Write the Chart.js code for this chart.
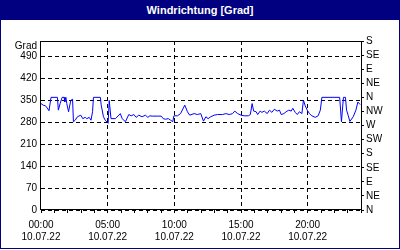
<!DOCTYPE html>
<html>
<head>
<meta charset="utf-8">
<script src="https://cdn.jsdelivr.net/npm/chart.js@4"></script>
<style>
    body { margin: 0; background: #fff; }
    #frame { position: absolute; left: 0; top: 0; width: 400px; height: 249px; box-sizing: border-box; border: 1px solid #000080; border-top: none; }
    #title { position: absolute; left: 0; top: 0; width: 400px; height: 20px; background: #000080; color: #fff;
             font: bold 11px "Liberation Sans", sans-serif; text-align: center; line-height: 20px; }
    #chart { position: absolute; left: 0; top: 0; }
</style>
</head>
<body>
<div id="frame"></div>
<div id="title">Windrichtung [Grad]</div>
<canvas id="chart" width="400" height="250"></canvas>
<script>
// Windrichtung 10.07.22, Werte in Grad
const times = [
    "00:00", "00:10", "00:20", "00:28", "00:36", "00:45", "01:14", "01:18", "01:26", "01:35",
    "01:44", "01:47", "01:52", "01:56", "02:04", "02:14", "02:22", "02:26", "02:34", "02:44",
    "02:59", "03:08", "03:19", "03:26", "03:37", "03:45", "03:52", "03:56", "04:27", "04:31",
    "04:41", "04:49", "05:02", "05:07", "05:15", "05:35", "05:57", "06:05", "06:20", "06:35",
    "06:46", "06:58", "07:08", "07:20", "07:35", "07:50", "08:01", "08:10", "08:20", "08:50",
    "09:01", "09:10", "09:20", "09:33", "09:43", "09:53", "09:58", "10:14", "10:28", "10:47",
    "10:59", "11:09", "11:29", "11:44", "11:59", "12:11", "12:22", "12:32", "12:44", "12:59",
    "13:14", "13:37", "13:52", "14:07", "14:22", "14:32", "14:45", "15:00", "15:14", "15:33",
    "15:42", "15:50", "15:57", "16:08", "16:15", "16:26", "16:34", "16:45", "16:58", "17:08",
    "17:19", "17:30", "17:43", "17:53", "18:01", "18:13", "18:23", "18:35", "18:46", "18:53",
    "19:04", "19:13", "19:23", "19:34", "19:41", "19:49", "19:58", "20:08", "20:19", "20:34",
    "20:47", "20:57", "21:04", "22:24", "22:32", "22:41", "22:50", "22:55", "23:02", "23:10",
    "23:25", "23:37", "23:46", "23:56"
];
const windDir = [
    340, 335, 333, 326, 317, 360, 360, 319, 340, 360,
    360, 345, 360, 340, 314, 350, 354, 282, 287, 298,
    303, 292, 296, 292, 296, 287, 314, 360, 360, 335,
    298, 287, 277, 350, 292, 292, 308, 292, 282, 305,
    301, 305, 296, 303, 298, 303, 296, 301, 300, 300,
    300, 292, 290, 292, 287, 282, 301, 301, 308, 335,
    314, 303, 308, 305, 308, 284, 298, 292, 298, 303,
    305, 305, 308, 305, 308, 316, 308, 303, 301, 301,
    305, 340, 316, 314, 305, 316, 312, 316, 308, 319,
    312, 322, 316, 319, 305, 308, 314, 319, 316, 325,
    312, 305, 314, 308, 351, 333, 319, 308, 301, 296,
    301, 319, 360, 360, 282, 360, 360, 319, 303, 283,
    298, 319, 345, 337
];
const dateLabel = "10.07.22";
const leftTicks = [0, 70, 140, 210, 280, 350, 420, 490];
const compass = ["N", "NE", "E", "SE", "S", "SW", "W", "NW", "N", "NE", "E", "SE", "S"];

const toHours = t => {
    const [h, m] = t.split(":").map(Number);
    return h + m / 60;
};
const points = times.map((t, i) => ({ x: toHours(t), y: windDir[i] }));

Chart.defaults.font.family = "'Liberation Sans', sans-serif";
Chart.defaults.font.size = 10;
Chart.defaults.color = "#000";

// Rahmen um die Zeichenfläche + "Grad" Beschriftung
const framePlugin = {
    id: "frame",
    afterDraw(chart) {
        const { ctx, chartArea: a } = chart;
        ctx.save();
        ctx.strokeStyle = "#000";
        ctx.lineWidth = 1;
        ctx.strokeRect(Math.round(a.left) - 0.5, Math.round(a.top) + 0.5,
                       Math.round(a.right - a.left) + 1, Math.round(a.bottom - a.top) - 1);
        ctx.fillStyle = "#000";
        ctx.font = "10px 'Liberation Sans', sans-serif";
        ctx.textAlign = "right";
        ctx.textBaseline = "middle";
        ctx.fillText("Grad", a.left - 4, a.top + 5);
        ctx.restore();
    }
};

new Chart(document.getElementById("chart"), {
    type: "line",
    data: {
        datasets: [{
            data: points,
            borderColor: "#0000ff",
            borderWidth: 1,
            pointRadius: 0,
            tension: 0,
            yAxisID: "y"
        }]
    },
    options: {
        responsive: false,
        animation: false,
        layout: { padding: { top: 41 } },
        plugins: { legend: { display: false }, tooltip: { enabled: false } },
        scales: {
            x: {
                type: "linear",
                min: 0,
                max: 24,
                afterFit: s => { s.height = 40; },
                afterBuildTicks: s => { s.ticks = Array.from({ length: 25 }, (_, i) => ({ value: i })); },
                border: { display: false, dash: [4, 3] },
                grid: {
                    color: c => (c.tick && c.tick.value % 5 === 0 && c.tick.value > 0) ? "#000" : "rgba(0,0,0,0)",
                    tickColor: "#000",
                    tickBorderDash: [1, 0],
                    tickLength: 3
                },
                ticks: {
                    autoSkip: false,
                    maxRotation: 0,
                    padding: 6,
                    callback: v => v % 5 === 0 && v < 24
                        ? [String(v).padStart(2, "0") + ":00", dateLabel] : ""
                }
            },
            y: {
                position: "left",
                min: 0,
                max: 540,
                afterFit: s => { s.width = 41; },
                afterBuildTicks: s => { s.ticks = leftTicks.map(v => ({ value: v })); },
                border: { display: false, dash: [4, 3] },
                grid: { color: "#000", drawTicks: false },
                ticks: { padding: 4, autoSkip: false }
            },
            y2: {
                position: "right",
                min: 0,
                max: 540,
                afterFit: s => { s.width = 39; },
                afterBuildTicks: s => { s.ticks = compass.map((_, i) => ({ value: i * 45 })); },
                border: { display: false },
                grid: { drawOnChartArea: false, tickColor: "#000", tickLength: 3 },
                ticks: { padding: 2, autoSkip: false, callback: (v, i) => compass[i] }
            }
        }
    },
    plugins: [framePlugin]
});
</script>
</body>
</html>
